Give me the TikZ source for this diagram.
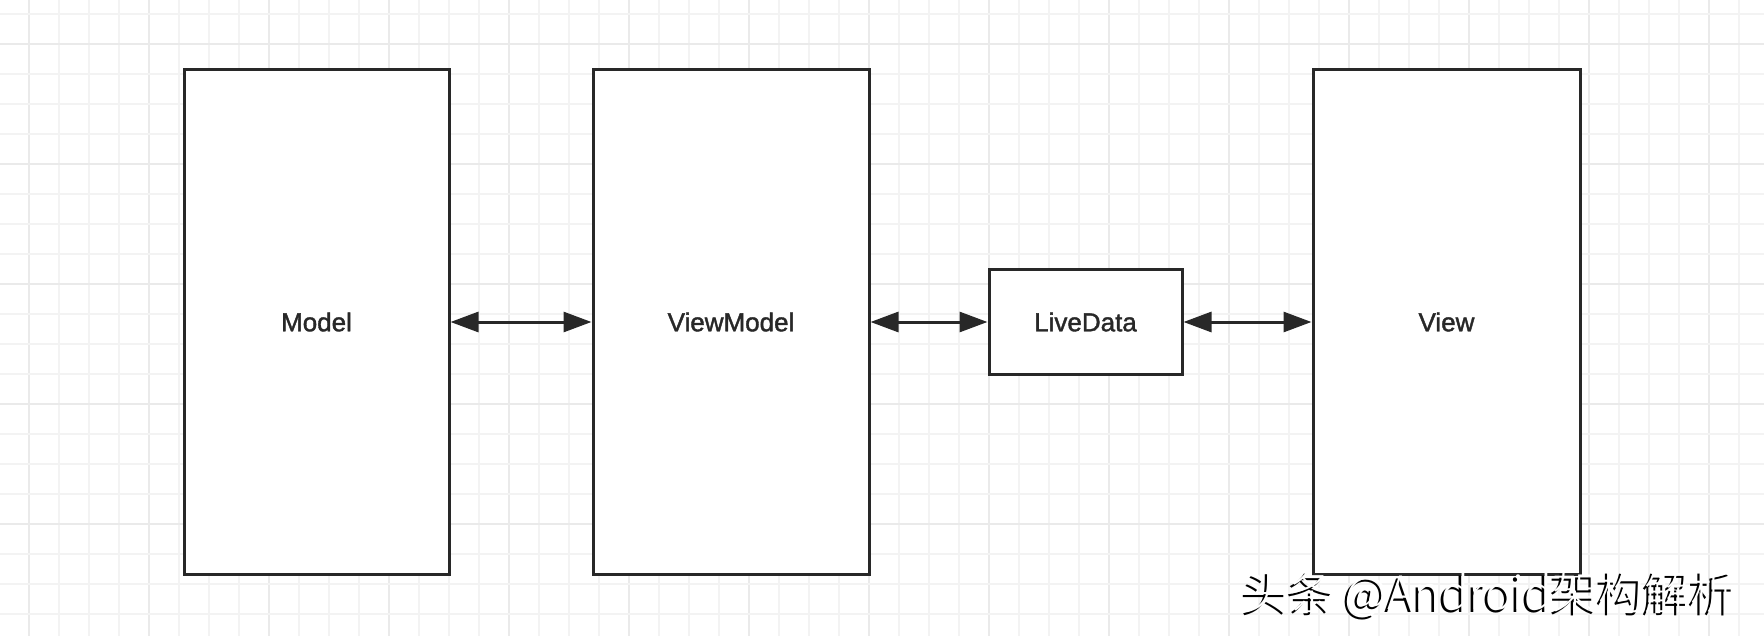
\documentclass[tikz,border=0pt]{standalone}
\usepackage{fontspec}
\setmainfont{Liberation Sans}
\newfontfamily\labelfont[FakeBold=1.5]{Liberation Sans}
\newfontfamily\cjkfont{Noto Sans CJK SC Light}
\usetikzlibrary{arrows.meta}
\definecolor{minorgrid}{HTML}{F3F3F3}
\definecolor{majorgrid}{HTML}{EAEAEA}
\definecolor{ink}{HTML}{282828}
\begin{document}
\begin{tikzpicture}[x=1pt,y=-1pt,
  box/.style={draw=ink, line width=3pt, fill=white, rectangle, inner sep=0pt, outer sep=0pt,
    font=\labelfont\fontsize{26}{30}\selectfont, text=ink},
  link/.style={draw=ink, line width=3pt, {Triangle[length=28pt,width=20pt]}-{Triangle[length=28pt,width=20pt]}, shorten <=1.5pt, shorten >=1.5pt}]
\useasboundingbox (0,0) rectangle (1764,636);
\fill[white] (0,0) rectangle (1764,636);
% grid
\foreach \i in {0,...,58} {
  \pgfmathtruncatemacro{\m}{mod(\i,4)}
  \ifnum\m=0
    \draw[majorgrid, line width=2pt] ({29+30*\i},0) -- ({29+30*\i},636);
  \else
    \draw[minorgrid, line width=2pt] ({29+30*\i},0) -- ({29+30*\i},636);
  \fi
}
\foreach \j in {0,...,21} {
  \pgfmathtruncatemacro{\m}{mod(\j+3,4)}
  \ifnum\m=0
    \draw[majorgrid, line width=2pt] (0,{14+30*\j}) -- (1764,{14+30*\j});
  \else
    \draw[minorgrid, line width=2pt] (0,{14+30*\j}) -- (1764,{14+30*\j});
  \fi
}
% boxes
\node[box, minimum width=265pt, minimum height=504pt] (model) at (316.5,322) {Model};
\node[box, minimum width=276pt, minimum height=504pt] (vm) at (731,322) {ViewModel};
\node[box, minimum width=193pt, minimum height=105pt] (ld) at (1085.5,322) {LiveData};
\node[box, minimum width=267pt, minimum height=504pt] (view) at (1446.5,322) {View};
% connectors
\draw[link] (model.east) -- (vm.west);
\draw[link] (vm.east) -- (ld.west);
\draw[link] (ld.east) -- (view.west);
% watermark
\node[anchor=west, inner sep=0pt, text=black, font=\cjkfont\fontsize{46}{50}\selectfont] (wmshadow) at (1240,597) {头条 @Android架构解析};
\node[anchor=west, inner sep=0pt, text=white, font=\cjkfont\fontsize{46}{50}\selectfont] (wm) at (1243,594) {头条 @Android架构解析};
\end{tikzpicture}
\end{document}
